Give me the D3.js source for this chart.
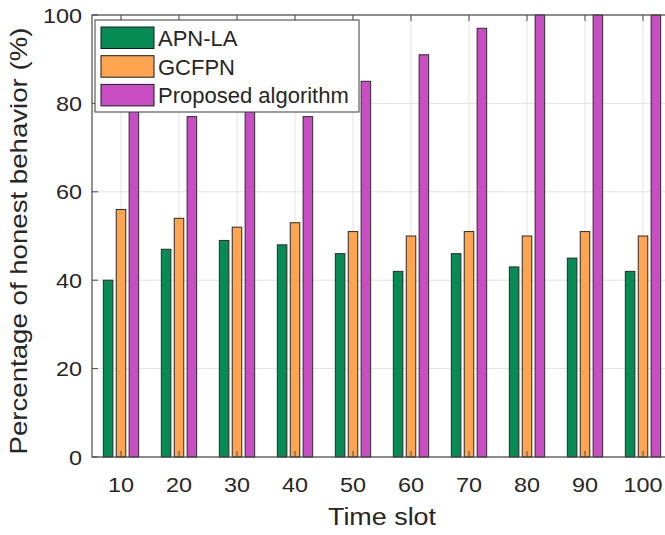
<!DOCTYPE html>
<html>
<head>
<meta charset="utf-8">
<script src="https://cdn.jsdelivr.net/npm/d3@7"></script>
<style>
  body { margin: 0; background: #fff; }
  text { font-family: "Liberation Sans", Arial, sans-serif; fill: #262626; }
</style>
</head>
<body>
<div id="chart"></div>
<script>
// chart data
var timeSlots = ["10", "20", "30", "40", "50", "60", "70", "80", "90", "100"];
var seriesNames = ["APN-LA", "GCFPN", "Proposed algorithm"];
var apnla = [40, 47, 49, 48, 46, 42, 46, 43, 45, 42];
var gcfpn = [56, 54, 52, 53, 51, 50, 51, 50, 51, 50];
var proposed = [80, 77, 79, 77, 85, 91, 97, 100, 100, 100];
var yTicks = [0, 20, 40, 60, 80, 100];

var colors = ["#068b55", "#ffa552", "#c94ec3"];

var svgWidth = 665;
var svgHeight = 535;

var margin = { top: 15, right: -7, bottom: 78, left: 92 };
var width = svgWidth - margin.left - margin.right;
var height = svgHeight - margin.top - margin.bottom;

var svg = d3.select("#chart")
  .append("svg")
  .attr("width", svgWidth)
  .attr("height", svgHeight);

var chartGroup = svg.append("g")
  .attr("transform", `translate(${margin.left}, ${margin.top})`);

var rows = timeSlots.map(function(t, i) {
  return { slot: t, values: [apnla[i], gcfpn[i], proposed[i]] };
});

// scales
var xScale = d3.scaleBand()
  .domain(timeSlots)
  .range([0, width])
  .padding(0);

var groupW = xScale.bandwidth() * 0.667;
var xSub = d3.scaleBand()
  .domain(d3.range(seriesNames.length))
  .range([(xScale.bandwidth() - groupW) / 2, (xScale.bandwidth() + groupW) / 2])
  .paddingInner(0.26)
  .paddingOuter(0.13);

var yScale = d3.scaleLinear()
  .domain([0, 100])
  .range([height, 0]);

// grid
chartGroup.append("g")
  .selectAll("line.vgrid")
  .data(timeSlots)
  .enter()
  .append("line")
  .attr("x1", d => xScale(d) + xScale.bandwidth() / 2)
  .attr("x2", d => xScale(d) + xScale.bandwidth() / 2)
  .attr("y1", 0)
  .attr("y2", height)
  .attr("stroke", "#e3e3e3")
  .attr("stroke-width", 1);

chartGroup.append("g")
  .selectAll("line.hgrid")
  .data(yTicks)
  .enter()
  .append("line")
  .attr("x1", 0)
  .attr("x2", width)
  .attr("y1", d => yScale(d))
  .attr("y2", d => yScale(d))
  .attr("stroke", "#e3e3e3")
  .attr("stroke-width", 1);

// bars
var groups = chartGroup.selectAll("g.slot")
  .data(rows)
  .enter()
  .append("g")
  .attr("transform", d => `translate(${xScale(d.slot)}, 0)`);

groups.selectAll("rect")
  .data(d => d.values)
  .enter()
  .append("rect")
  .attr("x", (d, i) => xSub(i))
  .attr("width", xSub.bandwidth())
  .attr("y", d => yScale(d))
  .attr("height", d => height - yScale(d))
  .attr("fill", (d, i) => colors[i])
  .attr("stroke", "#2a2a2a")
  .attr("stroke-width", 1);

// axes
var axisColor = "#4a4a4a";
var bottomAxis = d3.axisBottom(xScale).tickSize(0).tickPadding(0);
var xAxis = chartGroup.append("g")
  .attr("transform", `translate(0, ${height})`)
  .call(bottomAxis);
xAxis.select(".domain").remove();
xAxis.selectAll("text")
  .attr("y", 35)
  .attr("dy", 0)
  .attr("font-size", "19.5px")
  .attr("transform", "scale(1.2,1)")
  .style("fill", "#262626");

var leftAxis = d3.axisLeft(yScale).tickValues(yTicks).tickSize(0);
var yAxis = chartGroup.append("g").call(leftAxis);
yAxis.select(".domain").remove();
yAxis.selectAll("text")
  .attr("x", -8.4)
  .attr("dy", "0.36em")
  .attr("font-size", "19.5px")
  .attr("transform", "scale(1.2,1)")
  .style("fill", "#262626");

// inward ticks
var tickLen = 6;
timeSlots.forEach(function(t) {
  var cx = xScale(t) + xScale.bandwidth() / 2;
  chartGroup.append("line")
    .attr("x1", cx).attr("x2", cx).attr("y1", height).attr("y2", height - tickLen)
    .attr("stroke", axisColor);
  chartGroup.append("line")
    .attr("x1", cx).attr("x2", cx).attr("y1", 0).attr("y2", tickLen)
    .attr("stroke", axisColor);
});
yTicks.forEach(function(v) {
  chartGroup.append("line")
    .attr("x1", 0).attr("x2", tickLen).attr("y1", yScale(v)).attr("y2", yScale(v))
    .attr("stroke", axisColor);
});

// box
chartGroup.append("rect")
  .attr("x", 0)
  .attr("y", 0)
  .attr("width", width)
  .attr("height", height)
  .attr("fill", "none")
  .attr("stroke", axisColor)
  .attr("stroke-width", 1.2);

// legend
var legend = svg.append("g")
  .attr("transform", "translate(95, 20)");
legend.append("rect")
  .attr("width", 264)
  .attr("height", 92)
  .attr("fill", "#fff")
  .attr("stroke", "#3a3a3a")
  .attr("stroke-width", 1);

var items = legend.selectAll("g.item")
  .data(seriesNames)
  .enter()
  .append("g")
  .attr("transform", (d, i) => `translate(6, ${7 + i * 28.7})`);
items.append("rect")
  .attr("width", 53)
  .attr("height", 21.5)
  .attr("fill", (d, i) => colors[i])
  .attr("stroke", "#1a1a1a")
  .attr("stroke-width", 1);
items.append("text")
  .attr("x", 57)
  .attr("y", 18.8)
  .attr("font-size", "22px")
  .text(d => d);

// axis labels
svg.append("text")
  .attr("transform", "translate(382, 525) scale(1.17,1)")
  .attr("text-anchor", "middle")
  .attr("font-size", "23px")
  .text("Time slot");

svg.append("text")
  .attr("transform", "translate(27, 241) rotate(-90) scale(1.176,1)")
  .attr("text-anchor", "middle")
  .attr("font-size", "23.5px")
  .text("Percentage of honest behavior (%)");
</script>
</body>
</html>
